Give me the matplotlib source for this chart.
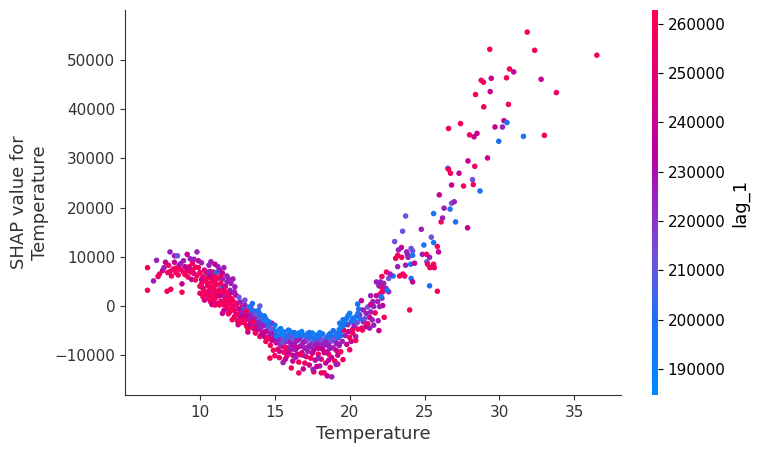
import numpy as np
import matplotlib.pyplot as plt
from matplotlib.colors import LinearSegmentedColormap

# lag_1 levels
R, M, P, V, B, C = 258000, 240000, 226000, 212000, 199000, 190000

# (temperature, shap value in thousands, lag_1)
cold = [
    (6.5, 3.2, R), (6.5, 7.8, R), (6.9, 5.1, P), (7.1, 9.3, P), (7.5, 7.2, M), (7.6, 7.8, P),
    (7.8, 3.0, R), (7.85, 6.8, R), (8.0, 11.0, P), (8.05, 3.4, R), (8.1, 6.1, R), (8.2, 7.5, R),
    (8.3, 10.2, P), (8.4, 6.8, R), (8.5, 10.2, V), (8.55, 6.3, R), (8.6, 8.2, M), (8.7, 7.4, R),
    (8.8, 2.8, R), (8.8, 4.5, M), (8.9, 9.2, P), (8.9, 6.9, R), (9.0, 8.0, M), (9.1, 7.0, R),
    (9.15, 10.5, M), (9.2, 5.9, R), (9.3, 8.0, R), (9.35, 9.6, P), (9.45, 5.4, M), (9.5, 8.7, R),
    (9.5, 7.3, R), (9.6, 6.6, M), (9.7, 5.3, R), (9.8, 11.0, P), (9.9, 9.2, M), (9.9, 7.8, R),
    (7.3, 6.5, R), (7.9, 8.3, R), (8.3, 8.9, M), (7.2, 6.0, R),
    (8.0, 7.0, R), (8.4, 7.7, R), (8.7, 8.6, P), (9.0, 6.4, R), (9.2, 7.6, M), (9.4, 6.9, R),
    (9.6, 9.5, P), (9.7, 7.9, R), (9.8, 6.2, R), (7.7, 8.9, M),
]

cool = [
    (10.0, 2.6, R), (10.0, 6.8, R), (10.1, 4.5, R), (10.1, 8.8, P), (10.2, 3.6, M), (10.2, 6.0, R),
    (10.3, 1.2, M), (10.3, 7.3, M), (10.4, 5.0, R), (10.45, 6.3, V), (10.5, 2.2, R), (10.5, 4.1, R),
    (10.6, 8.3, P), (10.6, 3.0, M), (10.7, 0.9, R), (10.73, 9.0, P), (10.8, 5.5, R), (10.8, 2.0, R),
    (10.9, 3.8, R), (10.9, 6.9, P), (11.0, 8.5, M), (11.0, 1.5, R), (11.0, 4.8, M), (11.1, 6.8, B),
    (11.1, 2.8, R), (11.2, 0.5, M), (11.2, 5.6, R), (11.3, 3.3, R), (11.3, 7.3, P), (11.4, 1.0, R),
    (11.45, 3.9, B), (11.5, -1.5, M), (11.5, 5.5, P), (11.5, 2.2, R), (11.6, 7.8, P), (11.6, 0.2, R),
    (11.67, 1.9, P), (11.7, 4.0, M), (11.8, -0.5, R), (11.8, 2.6, R), (11.9, 5.5, P), (11.9, 0.9, M),
    (12.0, 3.2, P), (12.0, -1.2, R), (12.07, 4.6, P), (12.1, 1.5, R), (12.15, -2.8, R), (12.2, 0.0, M),
    (12.3, -0.9, R), (12.33, 3.9, P), (12.4, 2.2, M), (12.4, -1.8, M), (12.5, 0.6, R), (12.5, -3.0, R),
    (10.3, 5.5, R), (10.7, 7.0, R), (11.2, 8.0, P), (11.4, 6.2, R), (10.9, 1.0, R), (12.2, 5.5, P),
    (12.6, 1.8, V),
    # extra fill of the dense red clump
    (10.0, 4.0, R), (10.1, 5.4, M), (10.2, 1.9, R), (10.3, 3.0, R), (10.4, 6.9, R), (10.4, 2.4, R),
    (10.5, 5.7, R), (10.6, 1.5, R), (10.6, 4.6, R), (10.7, 3.4, R), (10.7, 6.2, M), (10.8, 0.3, M),
    (10.8, 3.9, R), (10.9, 2.6, R), (10.9, 5.0, R), (11.0, 3.1, R), (11.0, 0.2, R), (11.1, 4.3, R),
    (11.1, 1.9, R), (11.2, 3.0, R), (11.3, 0.2, R), (11.3, 2.1, M), (11.4, 4.6, R), (11.4, 3.0, R),
    (11.5, 0.8, R), (11.6, 3.4, R), (11.6, -0.9, M), (11.7, 1.2, R), (11.7, 2.8, R), (11.8, 0.4, R),
    (11.8, 4.9, P), (11.9, -1.6, R), (11.9, 2.0, R), (12.0, 0.6, R), (12.1, -0.4, R), (12.1, 2.7, M),
    (12.2, 1.1, R), (12.3, 2.9, P), (12.3, -2.2, R), (12.4, 0.2, R), (10.6, 6.9, P), (11.0, 6.0, R),
    (11.5, 6.7, M), (11.8, 6.1, P),
]

mild = [
    (12.55, -3.8, M), (12.6, -1.6, R), (12.7, 0.8, P), (12.7, -2.4, M), (12.8, -0.2, R), (12.9, -0.6, B),
    (12.9, -3.3, R), (13.0, -1.5, M), (13.0, 1.2, V), (13.1, -2.2, R), (13.1, -4.0, R), (13.2, -5.3, M),
    (13.2, -0.8, P), (13.3, -2.8, P), (13.3, -1.2, B), (13.4, -3.5, R), (13.4, -0.3, V), (13.5, 0.5, B),
    (13.5, -2.0, P), (13.55, -3.8, B), (13.6, -4.6, M), (13.6, -1.0, B), (13.7, -2.9, M), (13.7, -5.5, R),
    (13.8, -1.8, B), (13.8, -3.9, P), (13.9, -2.6, V), (13.9, -4.8, R), (14.0, 0.0, V), (14.0, -3.4, M),
    (14.0, -6.2, R), (14.1, -4.2, P), (14.1, -2.0, B), (14.2, -5.3, M), (14.2, -3.0, B), (14.3, -6.2, M),
    (14.3, -4.0, V), (14.4, -2.6, B), (14.4, -7.2, R), (14.5, -5.0, P), (14.5, -3.6, B), (14.6, -6.3, M),
    (14.6, -4.4, B), (14.67, -10.6, R), (14.7, -8.0, R), (14.7, -5.6, P), (14.8, -3.5, P), (14.8, -7.0, M),
    (14.9, -4.8, B), (14.9, -9.0, R), (15.0, -10.1, R), (15.0, -6.0, P), (13.2, -4.6, R), (12.8, -2.8, R),
    # extra fill
    (12.6, -0.6, M), (12.7, -3.4, R), (12.8, -1.4, P), (12.9, -2.2, M), (13.0, -3.0, R), (13.0, 0.2, P),
    (13.1, -1.0, R), (13.2, -2.0, M), (13.3, -3.9, M), (13.4, -1.9, P), (13.5, -4.4, R), (13.6, -2.4, P),
    (13.6, -3.2, R), (13.7, -1.6, V), (13.8, -4.6, M), (13.9, -3.4, P), (14.0, -1.6, B), (14.0, -4.6, P),
    (14.1, -5.8, M), (14.2, -4.0, P), (14.3, -2.0, B), (14.4, -5.2, M), (14.5, -6.6, R), (14.6, -3.2, B),
    (14.7, -4.6, V), (14.8, -5.6, P), (14.9, -6.6, M), (15.0, -3.9, B), (13.3, -0.2, B), (13.9, -0.9, B),
]

trough = [
    (15.1, -5.2, B), (15.1, -7.5, M), (15.2, -8.8, R), (15.2, -6.4, V), (15.3, -4.8, C), (15.3, -10.5, R),
    (15.4, -5.8, B), (15.45, -6.9, P), (15.5, -8.2, M), (15.55, -11.5, P), (15.6, -5.3, B), (15.6, -9.4, R),
    (15.7, -7.3, P), (15.7, -6.0, B), (15.8, -8.6, M), (15.8, -10.2, R), (15.9, -4.9, B), (15.9, -7.0, V),
    (16.0, -9.0, M), (16.0, -5.7, B), (16.1, -8.0, P), (16.1, -12.6, R), (16.2, -6.5, V), (16.2, -10.0, M),
    (16.3, -5.4, B), (16.3, -7.6, P), (16.4, -8.8, R), (16.4, -6.2, B), (16.5, -9.8, M), (16.5, -7.0, P),
    (16.6, -5.5, B), (16.6, -11.4, R), (16.7, -8.2, P), (16.7, -6.5, V), (16.8, -9.5, M), (16.8, -5.8, B),
    (16.9, -7.4, P), (16.9, -12.8, M), (17.0, -6.1, B), (17.0, -8.6, M), (17.1, -10.3, R), (17.1, -7.0, V),
    (17.2, -5.6, B), (17.2, -9.2, P), (17.3, -8.0, P), (17.3, -12.0, M), (17.4, -6.4, B), (17.4, -10.6, R),
    (17.5, -7.5, P), (17.5, -5.5, C), (17.6, -9.0, M), (17.6, -13.4, R), (17.7, -6.8, V), (17.7, -11.0, M),
    (17.8, -8.3, P), (17.8, -5.9, B), (17.9, -9.8, R), (17.9, -7.2, P), (18.0, -6.3, B), (18.0, -12.2, P),
    (18.1, -8.6, M), (18.1, -10.8, R), (18.2, -5.7, B), (18.2, -7.6, P), (18.3, -9.5, M), (18.3, -13.6, R),
    (18.4, -6.6, V), (18.4, -11.6, M), (18.5, -8.0, P), (18.5, -14.2, M), (18.6, -5.9, B), (18.6, -9.8, R),
    (18.7, -7.3, V), (18.7, -12.5, R), (18.8, -6.2, B), (18.8, -10.5, M), (18.9, -8.5, P), (18.9, -5.0, B),
    (19.0, -11.2, R), (19.0, -7.0, P), (19.1, -9.0, M), (19.1, -5.6, B), (19.2, -6.5, V), (19.2, -10.0, M),
    (19.3, -4.8, B), (19.3, -8.0, P), (19.4, -6.0, B), (19.4, -9.3, R), (19.5, -7.2, P), (19.5, -4.2, C),
    (15.2, -7.0, P), (15.4, -8.0, P), (15.6, -6.6, V), (15.8, -6.3, B), (16.0, -7.4, P), (16.2, -8.4, M),
    (16.4, -7.2, P), (16.6, -6.8, P), (16.8, -7.9, P), (17.0, -7.2, P), (17.2, -6.8, V), (17.4, -8.3, P),
    (17.6, -7.4, V), (17.8, -6.5, B), (18.0, -7.8, P), (18.2, -8.8, M), (18.4, -7.2, P), (18.6, -8.1, P),
    (18.8, -7.0, V), (19.0, -6.4, B), (19.2, -7.7, P), (15.5, -5.6, C), (16.5, -6.0, C), (17.5, -6.5, B),
    (18.5, -6.4, B), (16.9, -10.0, P), (17.9, -10.6, P), (15.9, -8.6, P), (16.6, -13.6, R), (17.55, -12.9, P),
    (18.8, -14.4, P), (18.1, -13.6, R),
    # extra fill
    (15.1, -6.2, B), (15.3, -9.2, M), (15.5, -7.4, V), (15.7, -8.4, R), (15.9, -9.6, M), (16.1, -6.2, V),
    (16.3, -8.8, P), (16.5, -8.4, M), (16.7, -9.9, R), (16.9, -6.0, B), (17.1, -8.5, P), (17.3, -6.2, B),
    (17.5, -9.6, M), (17.7, -8.0, P), (17.9, -8.6, M), (18.1, -6.9, V), (18.3, -7.8, P), (18.5, -9.3, M),
    (18.7, -8.6, P), (18.9, -6.8, V), (19.1, -7.6, P), (19.3, -6.2, B), (15.4, -4.6, C), (16.0, -5.1, C),
    (16.8, -5.2, C), (17.3, -5.4, B), (18.0, -5.4, C), (18.7, -5.6, B), (19.4, -5.2, B), (16.2, -11.2, M),
    (17.0, -11.6, R), (17.8, -12.3, M), (18.6, -11.0, M), (19.2, -11.8, R), (15.7, -10.8, M), (16.4, -10.4, P),
]

rise = [
    (19.55, -2.8, B), (19.6, -4.9, R), (19.87, -3.8, P), (20.0, -1.5, B), (20.4, -2.2, B), (20.67, -1.8, P),
    (21.1, -1.5, P), (21.33, -2.3, M), (20.2, -4.7, R), (20.55, -4.7, R), (20.85, -4.9, R), (21.07, -4.2, M),
    (21.33, -4.5, P), (21.95, -5.0, M), (20.4, -6.2, P), (20.78, 1.1, M), (20.53, 0.4, B), (21.6, -0.1, P),
    (22.2, 0.1, M), (21.4, -1.2, P), (21.7, -1.4, R), (22.3, -2.3, R), (21.9, -3.0, P), (21.6, -3.9, P),
    (21.55, 0.9, P), (21.87, 0.9, P), (21.4, 2.1, P), (21.78, 2.1, M), (22.07, 2.6, R), (22.15, 1.6, P),
    (21.78, 4.9, P), (22.0, 4.4, P), (22.27, 4.6, P), (22.13, 3.8, R), (22.42, 3.6, P), (22.6, 2.9, P),
    (24.0, -0.8, R), (20.1, -3.2, B), (19.33, -3.5, B), (19.8, -2.5, B), (20.55, -1.5, B), (22.0, -0.1, P),
    (20.2, -5.5, R), (20.8, -4.5, R), (20.1, -7.2, M), (20.0, -8.9, R), (19.55, -10.9, R), (19.1, -11.9, P),
    (19.7, -6.0, P), (19.9, -5.2, M), (20.3, -3.0, C), (20.6, -0.6, B), (19.4, -4.4, C), (19.7, -3.3, C),
    (20.9, -3.2, P), (21.2, -0.2, V), (19.8, -7.8, M), (20.4, -7.0, R),
    # extra fill
    (19.6, -3.9, B), (19.9, -1.9, C), (20.2, -2.5, B), (20.3, -4.0, P), (20.5, -3.4, V), (20.7, -2.6, B),
    (20.9, -0.8, P), (21.0, -2.6, V), (21.2, -3.6, R), (21.4, 0.3, M), (21.5, -2.8, P), (20.0, -6.4, R),
]

warm = [
    (23.73, 18.3, V), (23.53, 15.2, V), (23.0, 13.1, V), (23.45, 11.9, M), (23.25, 11.4, P), (23.8, 11.0, P),
    (24.1, 11.7, V), (24.2, 11.2, V), (23.07, 9.7, R), (23.47, 9.9, R), (23.9, 9.9, P), (23.85, 10.5, P),
    (23.2, 10.3, R), (24.2, 10.3, B), (23.2, 8.0, P), (23.73, 8.3, P), (24.07, 8.5, B), (24.33, 8.7, M),
    (22.45, 6.9, R), (22.9, 6.1, B), (23.33, 6.1, R), (23.67, 6.1, R), (24.1, 5.6, B), (23.55, 6.5, R),
    (24.2, 4.9, M), (22.15, 6.0, R), (22.05, 4.9, P), (21.95, 4.1, P), (22.6, 5.6, V), (22.7, 6.5, P),
    (22.2, 2.9, R), (22.5, 3.2, B), (22.1, 1.9, B),
    (24.78, 15.6, P), (25.45, 14.0, V), (24.95, 12.4, B), (25.6, 12.9, B), (25.85, 12.1, R), (25.93, 11.0, M),
    (24.85, 10.5, P), (25.13, 10.5, R), (25.33, 9.9, P), (25.15, 9.0, V), (25.2, 8.5, R), (25.5, 7.9, B),
    (25.6, 8.5, R), (25.35, 7.8, R), (25.65, 7.8, R), (25.33, 4.1, B), (25.85, 3.0, R), (26.1, 17.1, R),
    (26.2, 17.9, P), (25.6, 18.8, B), (26.3, 19.9, P), (26.7, 19.7, B), (25.98, 22.6, M), (26.8, 20.9, V),
    (26.98, 21.2, P), (27.07, 17.1, B), (27.87, 15.9, M),
]

hot = [
    (31.85, 55.7, R), (29.35, 52.2, R), (32.35, 52.0, R), (30.67, 48.2, R), (30.95, 47.6, M), (28.78, 45.9, R),
    (28.93, 45.5, R), (29.45, 46.3, M), (30.47, 46.4, R), (32.78, 46.1, M), (28.4, 43.0, R), (29.38, 43.6, M),
    (33.8, 43.4, R), (28.95, 40.5, R), (30.6, 41.0, R), (26.6, 36.1, R), (27.4, 37.1, R), (30.3, 37.7, M),
    (30.5, 37.3, B), (29.7, 36.4, M), (30.2, 36.4, P), (28.0, 34.8, R), (28.5, 35.1, M), (28.3, 34.4, M),
    (29.95, 33.5, B), (31.6, 34.5, B), (33.0, 34.7, R), (29.2, 30.1, M), (27.9, 29.5, M), (28.35, 28.4, R),
    (26.55, 28.0, B), (26.6, 27.8, R), (26.73, 27.0, R), (27.3, 27.0, M), (28.2, 25.7, V), (26.8, 24.6, M),
    (27.6, 24.4, R), (28.25, 24.7, R), (28.7, 23.4, B), (36.5, 51.0, R),
]

points = cold + cool + mild + trough + rise + warm + hot
temperature = [p[0] for p in points]
shap_value = [p[1] * 1000 for p in points]
lag_1 = [p[2] for p in points]

# shap red_blue look-alike
red_blue = LinearSegmentedColormap.from_list("red_blue", [
    (0.0, (0 / 255, 138 / 255, 250 / 255)),
    (0.2, (30 / 255, 112 / 255, 240 / 255)),
    (0.35, (110 / 255, 82 / 255, 222 / 255)),
    (0.48, (145 / 255, 45 / 255, 195 / 255)),
    (0.62, (180 / 255, 0 / 255, 165 / 255)),
    (0.78, (215 / 255, 0 / 255, 130 / 255)),
    (1.0, (255 / 255, 0 / 255, 82 / 255)),
])

axis_color = "#333333"
fig = plt.figure(figsize=(7.58, 4.53), dpi=100)
ax = fig.add_axes([0.165, 0.128, 0.654, 0.850])
cax = fig.add_axes([0.860, 0.128, 0.0079, 0.850])

sc = ax.scatter(temperature, shap_value, c=lag_1, cmap=red_blue, vmin=184700, vmax=262800,
                s=16, linewidth=0, alpha=1)

ax.set_xlim(5.0, 38.1)
ax.set_ylim(-18100, 60200)
ax.set_xticks([10, 15, 20, 25, 30, 35])
ax.set_yticks(np.arange(-10000, 50001, 10000))
ax.spines["top"].set_visible(False)
ax.spines["right"].set_visible(False)
ax.spines["left"].set_color(axis_color)
ax.spines["bottom"].set_color(axis_color)
ax.tick_params(color=axis_color, labelcolor=axis_color, labelsize=11)
ax.set_xlabel("Temperature", color=axis_color, fontsize=13)
ax.set_ylabel("SHAP value for\nTemperature", color=axis_color, fontsize=13)

cb = fig.colorbar(sc, cax=cax, ticks=np.arange(190000, 260001, 10000))
cb.outline.set_visible(False)
cb.ax.tick_params(labelsize=11)
cb.set_label("lag_1", size=13)

fig.savefig("out.png", dpi=100)
